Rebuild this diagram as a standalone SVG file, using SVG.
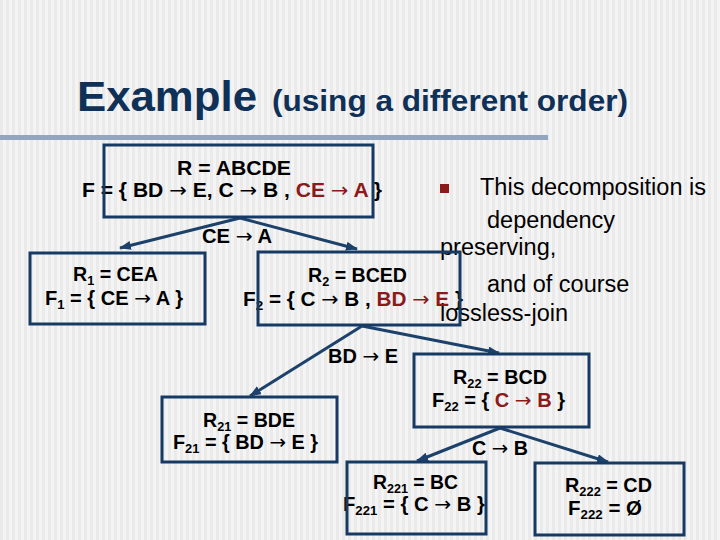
<svg xmlns="http://www.w3.org/2000/svg" width="720" height="540" viewBox="0 0 720 540">
<defs>
<pattern id="stripes" width="6" height="10" patternUnits="userSpaceOnUse">
<rect width="6" height="10" fill="#f4f4f4"/>
<rect width="3" height="10" fill="#eaeaea"/>
</pattern>
<marker id="ah" markerWidth="12" markerHeight="10" refX="11" refY="4.5" orient="auto" markerUnits="userSpaceOnUse">
<path d="M0,0 L12,4.5 L0,9 z" fill="#1c416a"/>
</marker>
<style>
.t{font-family:"Liberation Sans",Arial,sans-serif;font-weight:bold;font-size:20px;fill:#000}
.r{fill:#8b1a1a}
.a{font-family:"DejaVu Sans",sans-serif;font-weight:normal}
.s{font-size:13px}
.box{fill:none;stroke:#163a63;stroke-width:3}
.c{fill:none;stroke:#1c416a;stroke-width:3;marker-end:url(#ah)}
.p{font-family:"Liberation Sans",Arial,sans-serif;font-size:23.5px;fill:#000}
.title{font-family:"Liberation Sans",Arial,sans-serif;font-weight:bold;fill:#0f3057}
</style>
</defs>
<rect width="720" height="540" fill="url(#stripes)"/>
<g id="title">
<text class="title" x="77" y="111" font-size="43" textLength="180" lengthAdjust="spacingAndGlyphs">Example</text>
<text class="title" x="272" y="111" font-size="29" textLength="356" lengthAdjust="spacingAndGlyphs">(using a different order)</text>
<rect x="0" y="135" width="548" height="5" fill="#93a6bf"/>
</g>
<g id="notes">
<rect x="440" y="184" width="9" height="9" fill="#8b1a1a"/>
<text class="p" x="480" y="195">This decomposition is</text>
<text class="p" x="487" y="228">dependency</text>
<text class="p" x="440" y="255">preserving,</text>
<text class="p" x="487" y="292">and of course</text>
<text class="p" x="440" y="321">lossless-join</text>
</g>
<g id="connectors">
<line class="c" x1="240" y1="218" x2="120" y2="248"/>
<line class="c" x1="240" y1="218" x2="357" y2="249"/>
<line class="c" x1="362" y1="326" x2="250" y2="396"/>
<line class="c" x1="362" y1="326" x2="499" y2="353"/>
<line class="c" x1="500" y1="428" x2="417" y2="461"/>
<line class="c" x1="500" y1="428" x2="608" y2="462"/>
<text class="t" x="202" y="243" textLength="70" lengthAdjust="spacingAndGlyphs">CE <tspan class="a">→</tspan> A</text>
<text class="t" x="328" y="363" textLength="70" lengthAdjust="spacingAndGlyphs">BD <tspan class="a">→</tspan> E</text>
<text class="t" x="472" y="455" textLength="56" lengthAdjust="spacingAndGlyphs">C <tspan class="a">→</tspan> B</text>
</g>
<g id="R">
<text class="t" x="177" y="175" textLength="114" lengthAdjust="spacingAndGlyphs">R = ABCDE</text>
<text class="t" x="82" y="197" textLength="300" lengthAdjust="spacingAndGlyphs">F = { BD <tspan class="a">→</tspan> E, C <tspan class="a">→</tspan> B , <tspan class="r">CE <tspan class="a">→</tspan> A</tspan> }</text>
<rect class="box" x="104" y="145" width="269" height="72"/>
</g>
<g id="R1">
<text class="t" x="73" y="281" textLength="85" lengthAdjust="spacingAndGlyphs">R<tspan class="s" dy="4">1</tspan><tspan dy="-4"> = CEA</tspan></text>
<text class="t" x="45" y="305" textLength="138" lengthAdjust="spacingAndGlyphs">F<tspan class="s" dy="4">1</tspan><tspan dy="-4"> = { CE </tspan><tspan class="a">→</tspan> A }</text>
<rect class="box" x="30" y="253" width="175" height="71"/>
</g>
<g id="R2">
<text class="t" x="308" y="282" textLength="99" lengthAdjust="spacingAndGlyphs">R<tspan class="s" dy="4">2</tspan><tspan dy="-4"> = BCED</tspan></text>
<text class="t" x="243" y="306" textLength="220" lengthAdjust="spacingAndGlyphs">F<tspan class="s" dy="4">2</tspan><tspan dy="-4"> = { C </tspan><tspan class="a">→</tspan> B , <tspan class="r">BD <tspan class="a">→</tspan> E</tspan> }</text>
<rect class="box" x="258" y="252" width="202" height="73"/>
</g>
<g id="R21">
<text class="t" x="203" y="427" textLength="92" lengthAdjust="spacingAndGlyphs">R<tspan class="s" dy="4">21</tspan><tspan dy="-4"> = BDE</tspan></text>
<text class="t" x="173" y="449" textLength="145" lengthAdjust="spacingAndGlyphs">F<tspan class="s" dy="4">21</tspan><tspan dy="-4"> = { BD </tspan><tspan class="a">→</tspan> E }</text>
<rect class="box" x="162" y="397" width="175" height="65"/>
</g>
<g id="R22">
<text class="t" x="453" y="384" textLength="94" lengthAdjust="spacingAndGlyphs">R<tspan class="s" dy="4">22</tspan><tspan dy="-4"> = BCD</tspan></text>
<text class="t" x="432" y="407" textLength="133" lengthAdjust="spacingAndGlyphs">F<tspan class="s" dy="4">22</tspan><tspan dy="-4"> = { </tspan><tspan class="r">C <tspan class="a">→</tspan> B</tspan> }</text>
<rect class="box" x="414" y="354" width="175" height="73"/>
</g>
<g id="R221">
<text class="t" x="373" y="489" textLength="85" lengthAdjust="spacingAndGlyphs">R<tspan class="s" dy="4">221</tspan><tspan dy="-4"> = BC</tspan></text>
<text class="t" x="343" y="511" textLength="142" lengthAdjust="spacingAndGlyphs">F<tspan class="s" dy="4">221</tspan><tspan dy="-4"> = { C </tspan><tspan class="a">→</tspan> B }</text>
<rect class="box" x="347" y="462" width="139" height="72"/>
</g>
<g id="R222">
<text class="t" x="565" y="492" textLength="87" lengthAdjust="spacingAndGlyphs">R<tspan class="s" dy="4">222</tspan><tspan dy="-4"> = CD</tspan></text>
<text class="t" x="568" y="515" textLength="74" lengthAdjust="spacingAndGlyphs">F<tspan class="s" dy="4">222</tspan><tspan dy="-4"> = Ø</tspan></text>
<rect class="box" x="535" y="463" width="149" height="72"/>
</g>
</svg>
